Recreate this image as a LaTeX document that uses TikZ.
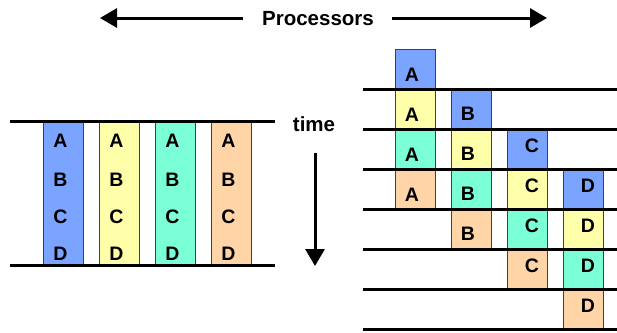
\documentclass[tikz,border=0pt]{standalone}
\usepackage{fontspec}
\setmainfont{Liberation Sans}
\usetikzlibrary{arrows.meta}
\definecolor{cblue}{RGB}{122,164,255}
\definecolor{cyel}{RGB}{255,255,170}
\definecolor{cgrn}{RGB}{122,255,214}
\definecolor{corg}{RGB}{255,213,168}
\begin{document}
\begin{tikzpicture}[x=1pt,y=-1pt,
  cell/.style={draw=black!75, line width=0.8pt, minimum width=40pt, anchor=north west, inner sep=0pt},
  lbl/.style={font=\bfseries\fontsize{19.5}{19.5}\selectfont, inner sep=0pt},
  big/.style={font=\bfseries\fontsize{20.5}{20.5}\selectfont, inner sep=0pt},
  bar/.style={line width=3pt},
  arr/.style={line width=3pt, -{Triangle[length=17pt,width=19pt]}}]
\useasboundingbox (0,0) rectangle (617,332);
% title
\node[big] (proc) at (318,19) {Processors};
\coordinate (pla) at (243,18);
\coordinate (plb) at (100,18);
\coordinate (pra) at (392,18);
\coordinate (prb) at (547,18);
\draw[arr] (pla) -- (plb);
\draw[arr] (pra) -- (prb);
% time
\node[big] (time) at (314,124) {time};
\coordinate (ta) at (315,153);
\coordinate (tb) at (315,266);
\draw[arr] (ta) -- (tb);
% left columns
\foreach \x/\c [count=\i] in {43/cblue,99/cyel,155/cgrn,211/corg}{
  \node[cell, fill=\c, minimum height=144pt] (L\i) at (\x,121) {};
  \foreach \l/\y in {A/141,B/180,C/217,D/254}
    \node[lbl] (L\i\l) at (\x+17.5,\y) {\l};
}
\draw[bar] (10,121) -- (275,121);
\draw[bar] (10,265) -- (275,265);
% right staircase
\foreach \col/\x/\l/\dx/\dy in {1/395/A/-3/26,2/451/B/-3/25,3/507/C/5/17,4/563/D/5/17}{
  \foreach \c [count=\k] in {cblue,cyel,cgrn,corg}{
    \pgfmathsetmacro{\yt}{49+40*(\col+\k-2)}
    \node[cell, fill=\c, minimum height=40pt] (R\col\k) at (\x,\yt) {};
    \node[lbl] (R\col\k l) at (\x+20+\dx,\yt+\dy) {\l};
  }
}
\foreach \y in {89,129,169,209,249,289,329}
  \draw[bar] (363,\y) -- (617,\y);
\end{tikzpicture}
\end{document}
